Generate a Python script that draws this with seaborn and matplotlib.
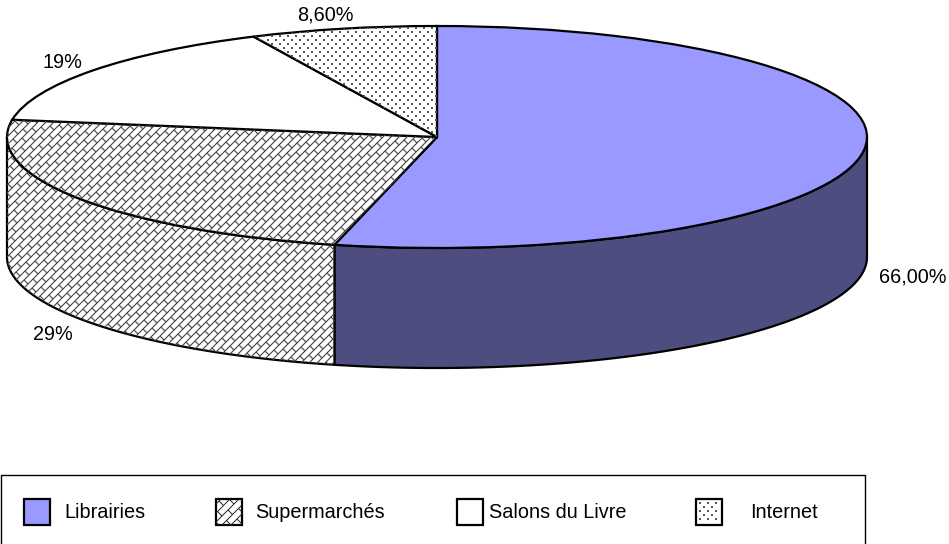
import numpy as np
import matplotlib
matplotlib.use("Agg")
import matplotlib.pyplot as plt
from matplotlib.collections import LineCollection
from matplotlib.patches import Rectangle
import seaborn as sns

# data
categories = ['Librairies', 'Supermarchés', 'Salons du Livre', 'Internet']
values = [66.0, 29.0, 19.0, 8.6]
value_labels = ['66,00%', '29%', '19%', '8,60%']

top_colors = ['#9999ff', '#ffffff', '#ffffff', '#ffffff']
side_colors = ['#4d4d80', '#ffffff', '#ffffff', '#ffffff']

# pixel layout of the reference
W, H = 949, 544
CX, CY = 437, 137
RX, RY, DEPTH = 430, 111, 120
LABEL_POS = [(879, 277), (33, 334), (43, 63), (297, 15)]
LEGEND_BOX = (1, 475, 864, 72)
SWATCH_X = [24, 216, 457, 696]
LEGEND_TEXT_X = [64, 255, 489, 750]

sns.set_theme(style="white")
plt.rcParams['font.family'] = ['Liberation Sans', 'DejaVu Sans']
FS = 14.3
EDGE = 1.6


def brick_lines(x0, y0, x1, y1, s=8.0, t=10.0):
    # diagonal brick pattern, long strokes / and short staggered strokes \
    segs = []
    k0 = int((x0 + y0) / s) - 1
    k1 = int((x1 + y1) / s) + 2
    for k in range(k0, k1):
        c = k * s
        segs.append([(c - y1, y1), (c - y0, y0)])
        off = k * s / 2 + (k % 2) * t / 2
        for x in np.arange(x0 - s + off % t, x1 + t, t):
            y = c - x
            if y0 - s <= y <= y1 + s:
                segs.append([(x, y), (x + s / 2, y + s / 2)])
    return segs


def dot_grid(x0, y0, x1, y1, dx=8.0, dy=4.0):
    # staggered rows of small dots
    xs, ys = [], []
    for r, y in enumerate(np.arange(y0, y1, dy)):
        row = np.arange(x0 + (r % 2) * dx / 2, x1, dx)
        xs.extend(row)
        ys.extend([y] * len(row))
    return xs, ys


fig = plt.figure(figsize=(W / 100, H / 100), dpi=100)
ax = fig.add_axes([0, 0, 1, 1])
px = fig.add_axes([0, 0, 1, 1], xlim=(0, W), ylim=(H, 0))
px.axis('off')
px.patch.set_alpha(0)

# the pie is a circle of radius RX, flattened by the y limits of the axes
k = RX / RY
wedges, _ = ax.pie(values, startangle=90, counterclock=False, radius=RX,
                   center=(CX, 0), colors=top_colors,
                   wedgeprops=dict(edgecolor='black', linewidth=EDGE, zorder=3))
ax.set_aspect('auto')
ax.set_xlim(0, W)
ax.set_ylim(-(H - CY) * k, CY * k)

# side wall: the part of each slice on the front half of the ellipse
bounds = 90 - np.cumsum([0] + values) / sum(values) * 360
sides = {}
for i in range(len(values)):
    hi = min(bounds[i], 0)
    lo = max(bounds[i + 1], -180)
    if hi <= lo:
        continue
    a = np.radians(np.linspace(hi, lo, 120))
    xs = CX + RX * np.cos(a)
    ys = RX * np.sin(a)
    poly = ax.fill(np.r_[xs, xs[::-1]], np.r_[ys, ys[::-1] - DEPTH * k],
                   facecolor=side_colors[i], edgecolor='black', linewidth=EDGE,
                   zorder=1)[0]
    sides[i] = poly

# Supermarchés carries the brick pattern on top and side
segs = brick_lines(0, 0, W, 400)
for clip, z in [(sides[1], 2), (wedges[1], 4)]:
    lc = LineCollection(segs, colors='#444444', linewidths=0.8, zorder=z,
                        transform=px.transData)
    ax.add_collection(lc, autolim=False)
    lc.set_clip_path(clip)

# Internet carries the dots
dx_pts, dy_pts = dot_grid(240, 20, 440, 140)
dots = ax.scatter(dx_pts, dy_pts, s=0.7, marker='s', color='#555555', linewidths=0,
                  zorder=4, transform=px.transData)
dots.set_clip_path(wedges[3])

for lab, (x, y) in zip(value_labels, LABEL_POS):
    px.text(x, y, lab, fontsize=FS, color='black', ha='left', va='center')

# legend
bx, by, bw, bh = LEGEND_BOX
px.add_patch(Rectangle((bx, by), bw, bh, facecolor='white', edgecolor='black',
                       linewidth=1.0, clip_on=False))
for i, name in enumerate(categories):
    swatch = Rectangle((SWATCH_X[i], 499), 26, 26, facecolor=top_colors[i],
                       edgecolor='black', linewidth=EDGE, zorder=3)
    px.add_patch(swatch)
    if i == 1:
        lc = LineCollection(brick_lines(SWATCH_X[i], 499, SWATCH_X[i] + 26, 525, s=9.0, t=12.0),
                            colors='#222222', linewidths=0.7, zorder=4)
        px.add_collection(lc, autolim=False)
        lc.set_clip_path(swatch)
    if i == 3:
        sx, sy = dot_grid(SWATCH_X[i] + 4, 503, SWATCH_X[i] + 24, 523, dx=8.0, dy=4.0)
        px.scatter(sx, sy, s=0.7, marker='s', color='#555555', linewidths=0, zorder=4)
    px.text(LEGEND_TEXT_X[i], 512, name, fontsize=FS, color='black',
            ha='left', va='center', zorder=4)

fig.savefig('out.png', dpi=100)
